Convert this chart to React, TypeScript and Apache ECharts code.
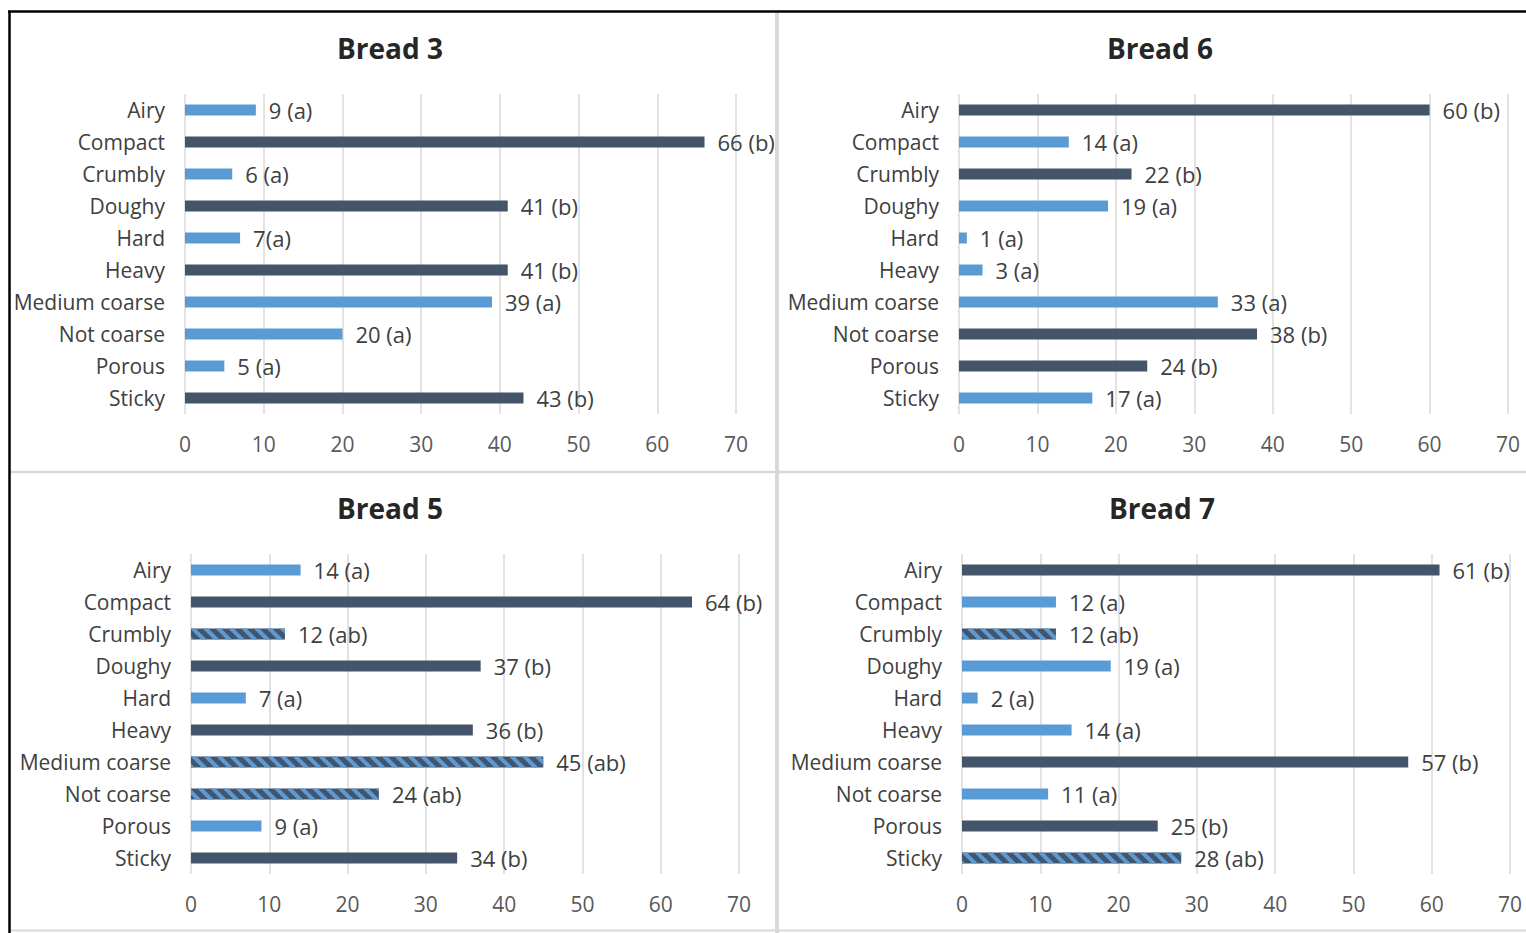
import React, { useEffect, useRef } from "react";
import * as echarts from "echarts";

const categories = ["Airy", "Compact", "Crumbly", "Doughy", "Hard", "Heavy", "Medium coarse", "Not coarse", "Porous", "Sticky"];
const xTicks = [0, 10, 20, 30, 40, 50, 60, 70];

const bread3Values = [9, 66, 6, 41, 7, 41, 39, 20, 5, 43];
const bread3Groups = ["a", "b", "a", "b", "a", "b", "a", "a", "a", "b"];
const bread3Labels = ["9 (a)", "66 (b)", "6 (a)", "41 (b)", "7(a)", "41 (b)", "39 (a)", "20 (a)", "5 (a)", "43 (b)"];

const bread6Values = [60, 14, 22, 19, 1, 3, 33, 38, 24, 17];
const bread6Groups = ["b", "a", "b", "a", "a", "a", "a", "b", "b", "a"];
const bread6Labels = ["60 (b)", "14 (a)", "22 (b)", "19 (a)", "1 (a)", "3 (a)", "33 (a)", "38 (b)", "24 (b)", "17 (a)"];

const bread5Values = [14, 64, 12, 37, 7, 36, 45, 24, 9, 34];
const bread5Groups = ["a", "b", "ab", "b", "a", "b", "ab", "ab", "a", "b"];
const bread5Labels = ["14 (a)", "64 (b)", "12 (ab)", "37 (b)", "7 (a)", "36 (b)", "45 (ab)", "24 (ab)", "9 (a)", "34 (b)"];

const bread7Values = [61, 12, 12, 19, 2, 14, 57, 11, 25, 28];
const bread7Groups = ["b", "a", "ab", "a", "a", "a", "b", "a", "b", "ab"];
const bread7Labels = ["61 (b)", "12 (a)", "12 (ab)", "19 (a)", "2 (a)", "14 (a)", "57 (b)", "11 (a)", "25 (b)", "28 (ab)"];

const LIGHT = "#5B9BD5";
const DARK = "#44546A";
const FONT = "'Open Sans', 'Noto Sans', sans-serif";

const panels = [
  { title: "Bread 3", values: bread3Values, groups: bread3Groups, labels: bread3Labels, grid: { left: 185, right: 790, top: 94, height: 320 }, tx: 390, ty: 48 },
  { title: "Bread 6", values: bread6Values, groups: bread6Groups, labels: bread6Labels, grid: { left: 959, right: 18, top: 94, height: 320 }, tx: 1160, ty: 48 },
  { title: "Bread 5", values: bread5Values, groups: bread5Groups, labels: bread5Labels, grid: { left: 191, right: 787, top: 554, height: 320 }, tx: 390, ty: 508 },
  { title: "Bread 7", values: bread7Values, groups: bread7Groups, labels: bread7Labels, grid: { left: 962, right: 16, top: 554, height: 320 }, tx: 1162, ty: 508 },
];

function itemStyleFor(g: string) {
  if (g === "a") return { color: LIGHT };
  if (g === "b") return { color: DARK };
  return {
    color: DARK,
    decal: {
      symbol: "rect",
      symbolSize: 1,
      color: LIGHT,
      dashArrayX: [1, 0],
      dashArrayY: [3.5, 5],
      rotation: Math.PI / 4,
    },
  };
}

export default function App() {
  const ref = useRef<HTMLDivElement>(null);
  useEffect(() => {
    if (!ref.current) return;
    const chart = echarts.init(ref.current, undefined, { renderer: "svg" });
    const option: any = {
      animation: false,
      backgroundColor: "#ffffff",
      grid: panels.map((p) => ({ ...p.grid, containLabel: false })),
      xAxis: panels.map((_, i) => ({
        type: "value",
        gridIndex: i,
        min: xTicks[0],
        max: xTicks[xTicks.length - 1],
        interval: 10,
        axisLine: { show: false },
        axisTick: { show: false },
        axisLabel: { color: "#595959", fontFamily: FONT, fontSize: 21, margin: 19 },
        splitLine: { show: true, lineStyle: { color: "#D9D9D9", width: 1.5 } },
      })),
      yAxis: panels.map((_, i) => ({
        type: "category",
        gridIndex: i,
        inverse: true,
        data: categories,
        axisLine: { show: false },
        axisTick: { show: false },
        axisLabel: { color: "#404040", fontFamily: FONT, fontSize: 21, margin: 20 },
        splitLine: { show: false },
      })),
      series: panels.map((p, i) => ({
        type: "bar",
        xAxisIndex: i,
        yAxisIndex: i,
        barWidth: 11,
        data: p.values.map((v, k) => ({
          value: v,
          itemStyle: itemStyleFor(p.groups[k]),
          label: { formatter: p.labels[k] },
        })),
        label: {
          show: true,
          position: "right",
          distance: 13,
          color: "#404040",
          fontFamily: FONT,
          fontSize: 22,
        },
      })),
      graphic: [
        ...panels.map((p) => ({
          type: "text",
          x: p.tx,
          y: p.ty,
          style: {
            text: p.title,
            textAlign: "center",
            textVerticalAlign: "middle",
            font: `bold 28px ${FONT}`,
            fill: "#262626",
          },
        })),
        { type: "line", shape: { x1: 777, y1: 12, x2: 777, y2: 933 }, style: { stroke: "#D9D9D9", lineWidth: 4 } },
        { type: "line", shape: { x1: 10, y1: 472, x2: 1526, y2: 472 }, style: { stroke: "#D9D9D9", lineWidth: 2.5 } },
        { type: "line", shape: { x1: 10, y1: 930.5, x2: 1526, y2: 930.5 }, style: { stroke: "#D9D9D9", lineWidth: 2 } },
        { type: "line", shape: { x1: 8, y1: 11.5, x2: 1526, y2: 11.5 }, style: { stroke: "#000000", lineWidth: 2.5 } },
        { type: "line", shape: { x1: 9.5, y1: 11, x2: 9.5, y2: 933 }, style: { stroke: "#000000", lineWidth: 2.5 } },
      ],
    };
    chart.setOption(option);
    return () => chart.dispose();
  }, []);
  return <div ref={ref} style={{ position: "absolute", left: 0, top: 0, width: 1526, height: 933 }} />;
}
